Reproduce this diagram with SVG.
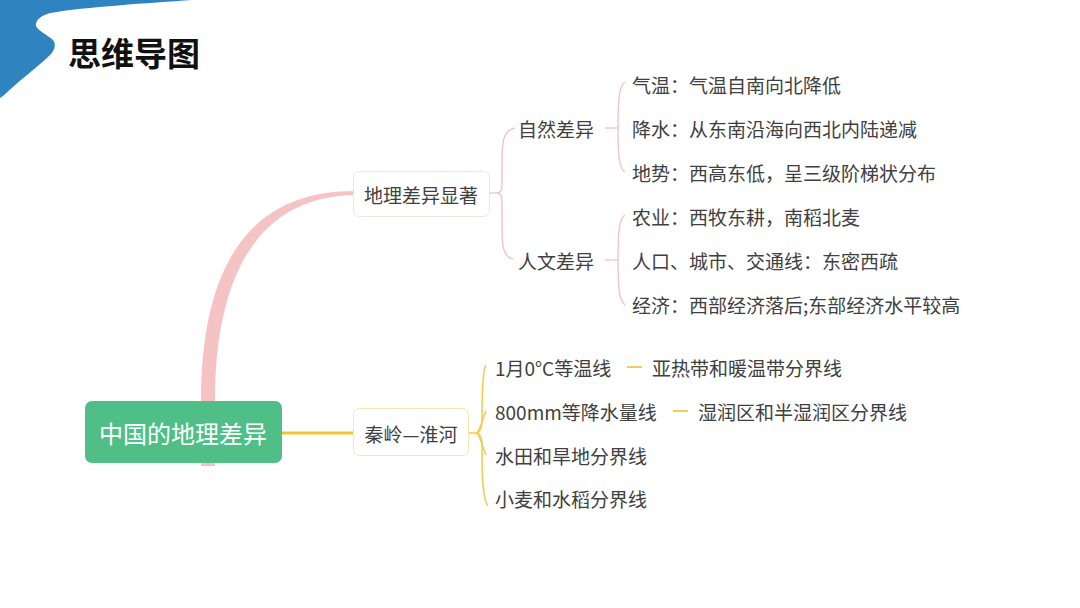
<svg xmlns="http://www.w3.org/2000/svg" width="1080" height="608" viewBox="0 0 1080 608">
<style>
.t{font-family:"Noto Sans CJK SC","Noto Sans",sans-serif;font-size:19px;fill:#404040;dominant-baseline:central}
.pk{fill:none;stroke:#f3c4c6;stroke-width:1.4}
.yl{fill:none;stroke:#f2cd55;stroke-width:1.6}
</style>
<rect width="1080" height="608" fill="#ffffff"/>
<path d="M0,0 L192,0 C150,3 85,7 50,13 C40,16 35,21 36,26 C38,31 48,35 53,40 C57,45 54,52 48,57 C36,68 20,80 3,96 L0,98 Z" fill="#2f84bf"/>
<text x="68" y="52" font-family="'Noto Sans CJK SC',sans-serif" font-size="33" font-weight="bold" fill="#111" dominant-baseline="central">思维导图</text>
<g id="connectors">
<path d="M201,466 L201,402 C201,262 252,191 354,191 L354,195 C264,197 215,266 215,402 L215,466 Z" fill="#f6c3c4"/>
<line x1="282" y1="433" x2="354" y2="433" stroke="#f2c232" stroke-width="3"/>
<path class="pk" d="M490,193 L497,193"/>
<path class="pk" d="M515,128 C504,130 502,140 502,160 L502,185 C502,190 500,193 497,193 C500,193 502,196 502,201 L502,228 C502,248 504,257 513,259"/>
<path class="pk" d="M605,128 L618,128"/>
<path class="pk" d="M625,82 C619,86 618,100 618,128 C618,156 619,168 625,172"/>
<path class="pk" d="M605,260 L618,260"/>
<path class="pk" d="M625,215 C619,219 618,232 618,260 C618,288 619,300 625,305"/>
<path class="yl" d="M469,433 L477,433"/>
<path class="yl" d="M486,365 C482,370 482,400 482,420 C482,428 480,432 477,433 C480,434 482,438 482,446 C482,470 482,498 488,506"/>
<path class="yl" d="M477,433 C481,428 482,420 486,411"/>
<path class="yl" d="M477,433 C481,438 482,446 486,455"/>
<line x1="627" y1="367" x2="642" y2="367" stroke="#f2cd55" stroke-width="2"/>
<line x1="673" y1="411" x2="688" y2="411" stroke="#f2cd55" stroke-width="2"/>
</g>
<g id="root">
<rect x="85" y="401" width="197" height="62" rx="7" fill="#4fbf87"/>
<text x="183" y="432" text-anchor="middle" font-family="'Noto Sans CJK SC',sans-serif" font-size="24" fill="#ffffff" dominant-baseline="central">中国的地理差异</text>
</g>
<g id="n-dili">
<rect x="353.5" y="171.5" width="136" height="45" rx="6" fill="#fff" stroke="#f4e2e2"/>
<text class="t" x="421" y="194" text-anchor="middle">地理差异显著</text>
</g>
<g id="n-ziran"><text class="t" x="518" y="128">自然差异</text></g>
<g id="n-renwen"><text class="t" x="518" y="260">人文差异</text></g>
<g id="n-qiwen"><text class="t" x="632" y="84">气温：气温自南向北降低</text></g>
<g id="n-jiangshui"><text class="t" x="632" y="128">降水：从东南沿海向西北内陆递减</text></g>
<g id="n-dishi"><text class="t" x="632" y="172">地势：西高东低，呈三级阶梯状分布</text></g>
<g id="n-nongye"><text class="t" x="632" y="216">农业：西牧东耕，南稻北麦</text></g>
<g id="n-renkou"><text class="t" x="632" y="260">人口、城市、交通线：东密西疏</text></g>
<g id="n-jingji"><text class="t" x="632" y="304">经济：西部经济落后;东部经济水平较高</text></g>
<g id="n-qinling">
<rect x="353.5" y="408.5" width="115" height="47" rx="6" fill="#fff" stroke="#f7e6b0"/>
<text class="t" x="411" y="433" text-anchor="middle">秦岭—淮河</text>
</g>
<g id="n-1yue"><text class="t" x="495" y="367">1月0°C等温线</text></g>
<g id="n-yare"><text class="t" x="652" y="367">亚热带和暖温带分界线</text></g>
<g id="n-800"><text class="t" x="495" y="411">800mm等降水量线</text></g>
<g id="n-shirun"><text class="t" x="698" y="411">湿润区和半湿润区分界线</text></g>
<g id="n-shuitian"><text class="t" x="495" y="455">水田和旱地分界线</text></g>
<g id="n-xiaomai"><text class="t" x="495" y="498">小麦和水稻分界线</text></g>
</svg>
